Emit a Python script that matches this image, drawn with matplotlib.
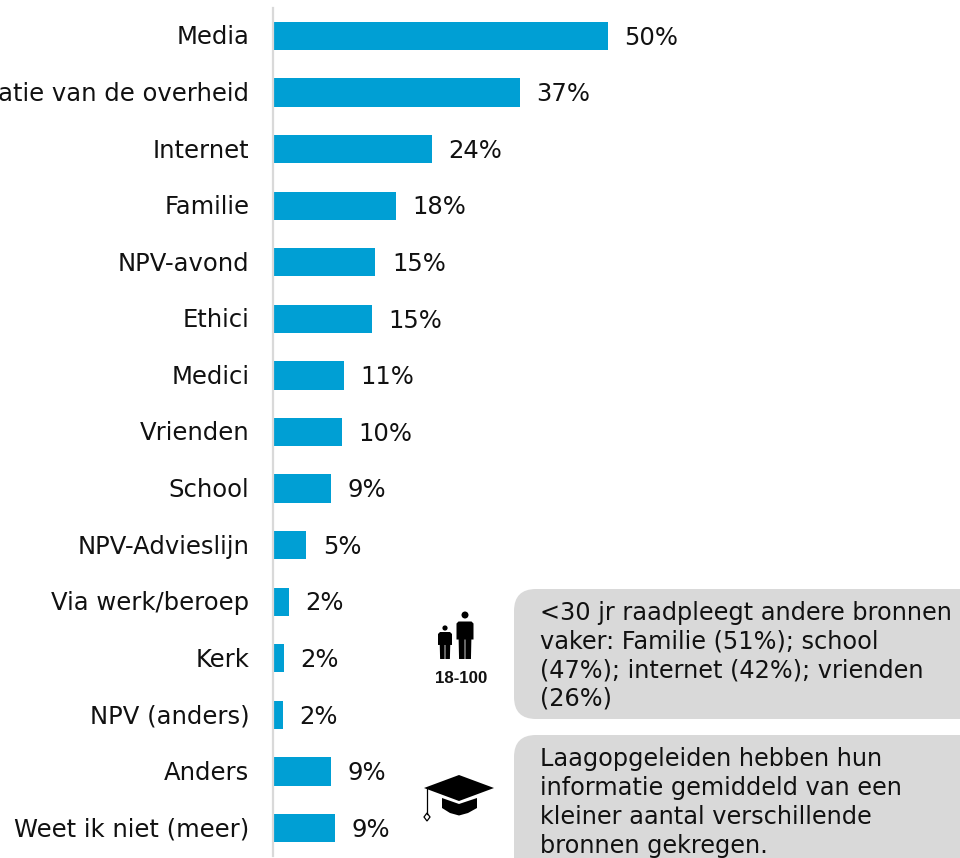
import matplotlib
matplotlib.use("Agg")
import matplotlib.pyplot as plt
from matplotlib.patches import FancyBboxPatch, Polygon, Circle
from matplotlib.transforms import ScaledTranslation

categories = ["Media", "Informatie van de overheid", "Internet", "Familie", "NPV-avond",
              "Ethici", "Medici", "Vrienden", "School", "NPV-Advieslijn",
              "Via werk/beroep", "Kerk", "NPV (anders)", "Anders", "Weet ik niet (meer)"]
values = [50.0, 36.9, 23.7, 18.4, 15.3, 14.8, 10.6, 10.3, 8.6, 5.0, 2.4, 1.6, 1.5, 8.7, 9.2]
labels = ["50%", "37%", "24%", "18%", "15%", "15%", "11%", "10%", "9%", "5%", "2%", "2%", "2%", "9%", "9%"]
note_age = "<30 jr raadpleegt andere bronnen\nvaker: Familie (51%); school\n(47%); internet (42%); vrienden\n(26%)"
note_edu = "Laagopgeleiden hebben hun\ninformatie gemiddeld van een\nkleiner aantal verschillende\nbronnen gekregen."

W, H = 960, 858
BLUE = "#009fd4"
GREY = "#d9d9d9"
FS = 17.5
FS_NOTE = 17.3
plt.rcParams["font.family"] = "DejaVu Sans"

fig = plt.figure(figsize=(W / 100, H / 100), dpi=100, facecolor="white")
left, top, bottom = 273.0, 7.7, 856.3
ax = fig.add_axes([left / W, 1 - bottom / H, (W - left) / W, (bottom - top) / H])
bars = ax.barh(range(len(values)), values, height=0.5, color=BLUE)
ax.set_xlim(0, (W - left) / 6.69)
ax.set_ylim(len(values) - 0.5, -0.5)
ax.set_yticks(range(len(values)), categories, fontsize=FS, color="#111111", va="center_baseline")
ax.tick_params(axis="y", length=0, pad=17)
for t in ax.get_yticklabels():
    t.set_transform(t.get_transform() + ScaledTranslation(0, 1 / 100, fig.dpi_scale_trans))
ax.xaxis.set_visible(False)
for s in ("top", "right", "bottom"):
    ax.spines[s].set_visible(False)
ax.spines["left"].set_color("#d9d9d9")
ax.spines["left"].set_linewidth(1.6)
for t in ax.bar_label(bars, labels=labels, padding=12, fontsize=FS, color="#111111"):
    t.xyann = (12, -1.2)

ov = fig.add_axes([0, 0, 1, 1], facecolor="none")
ov.set_xlim(0, W)
ov.set_ylim(H, 0)
ov.axis("off")

for y0, y1, txt, yc, ls in ((589, 719, note_age, 656, 1.235), (735, 900, note_edu, 802.5, 1.26)):
    ov.add_patch(FancyBboxPatch((514 + 22, y0 + 22), 500, y1 - y0 - 44,
                                boxstyle="round,pad=22,rounding_size=22",
                                fc=GREY, ec="none"))
    ov.text(540, yc, txt, fontsize=FS_NOTE, color="#111111", va="center", ha="left", linespacing=ls)

k = "#000000"
def person(cx, head_y, top_y, bot_y, hw, r):
    mid = top_y + (bot_y - top_y) * .48
    ov.add_patch(Circle((cx, head_y), r, fc=k, ec="none"))
    ov.add_patch(Polygon([(cx - hw, top_y + 2), (cx - hw + 2, top_y), (cx + hw - 2, top_y), (cx + hw, top_y + 2),
                          (cx + hw, mid), (cx + hw * .75, mid), (cx + hw * .7, bot_y), (cx + .4, bot_y),
                          (cx + .4, mid), (cx - .4, mid), (cx - .4, bot_y), (cx - hw * .7, bot_y),
                          (cx - hw * .75, mid), (cx - hw, mid)], fc=k, ec="none"))
person(465, 615, 621.5, 659, 8.5, 3.5)
person(445, 628, 632, 659, 7, 2.6)
ov.text(461, 678.5, "18-100", fontsize=12.2, fontweight="bold", family="Liberation Sans",
        ha="center", va="center", color="#111111")

ov.add_patch(Polygon([(424, 788), (459, 775), (494, 788), (459, 801)], fc=k, ec="none"))
ov.add_patch(Polygon([(442, 798), (459, 804), (477, 798), (477, 808), (468, 813), (459, 815.5), (450, 813), (442, 808)],
                     fc=k, ec="none"))
ov.plot([427, 427], [789, 814], color=k, lw=0.9)
ov.add_patch(Polygon([(427, 813), (430, 817), (427, 821), (424, 817)], fc="white", ec=k, lw=0.9))

fig.savefig("out.png", dpi=100)
